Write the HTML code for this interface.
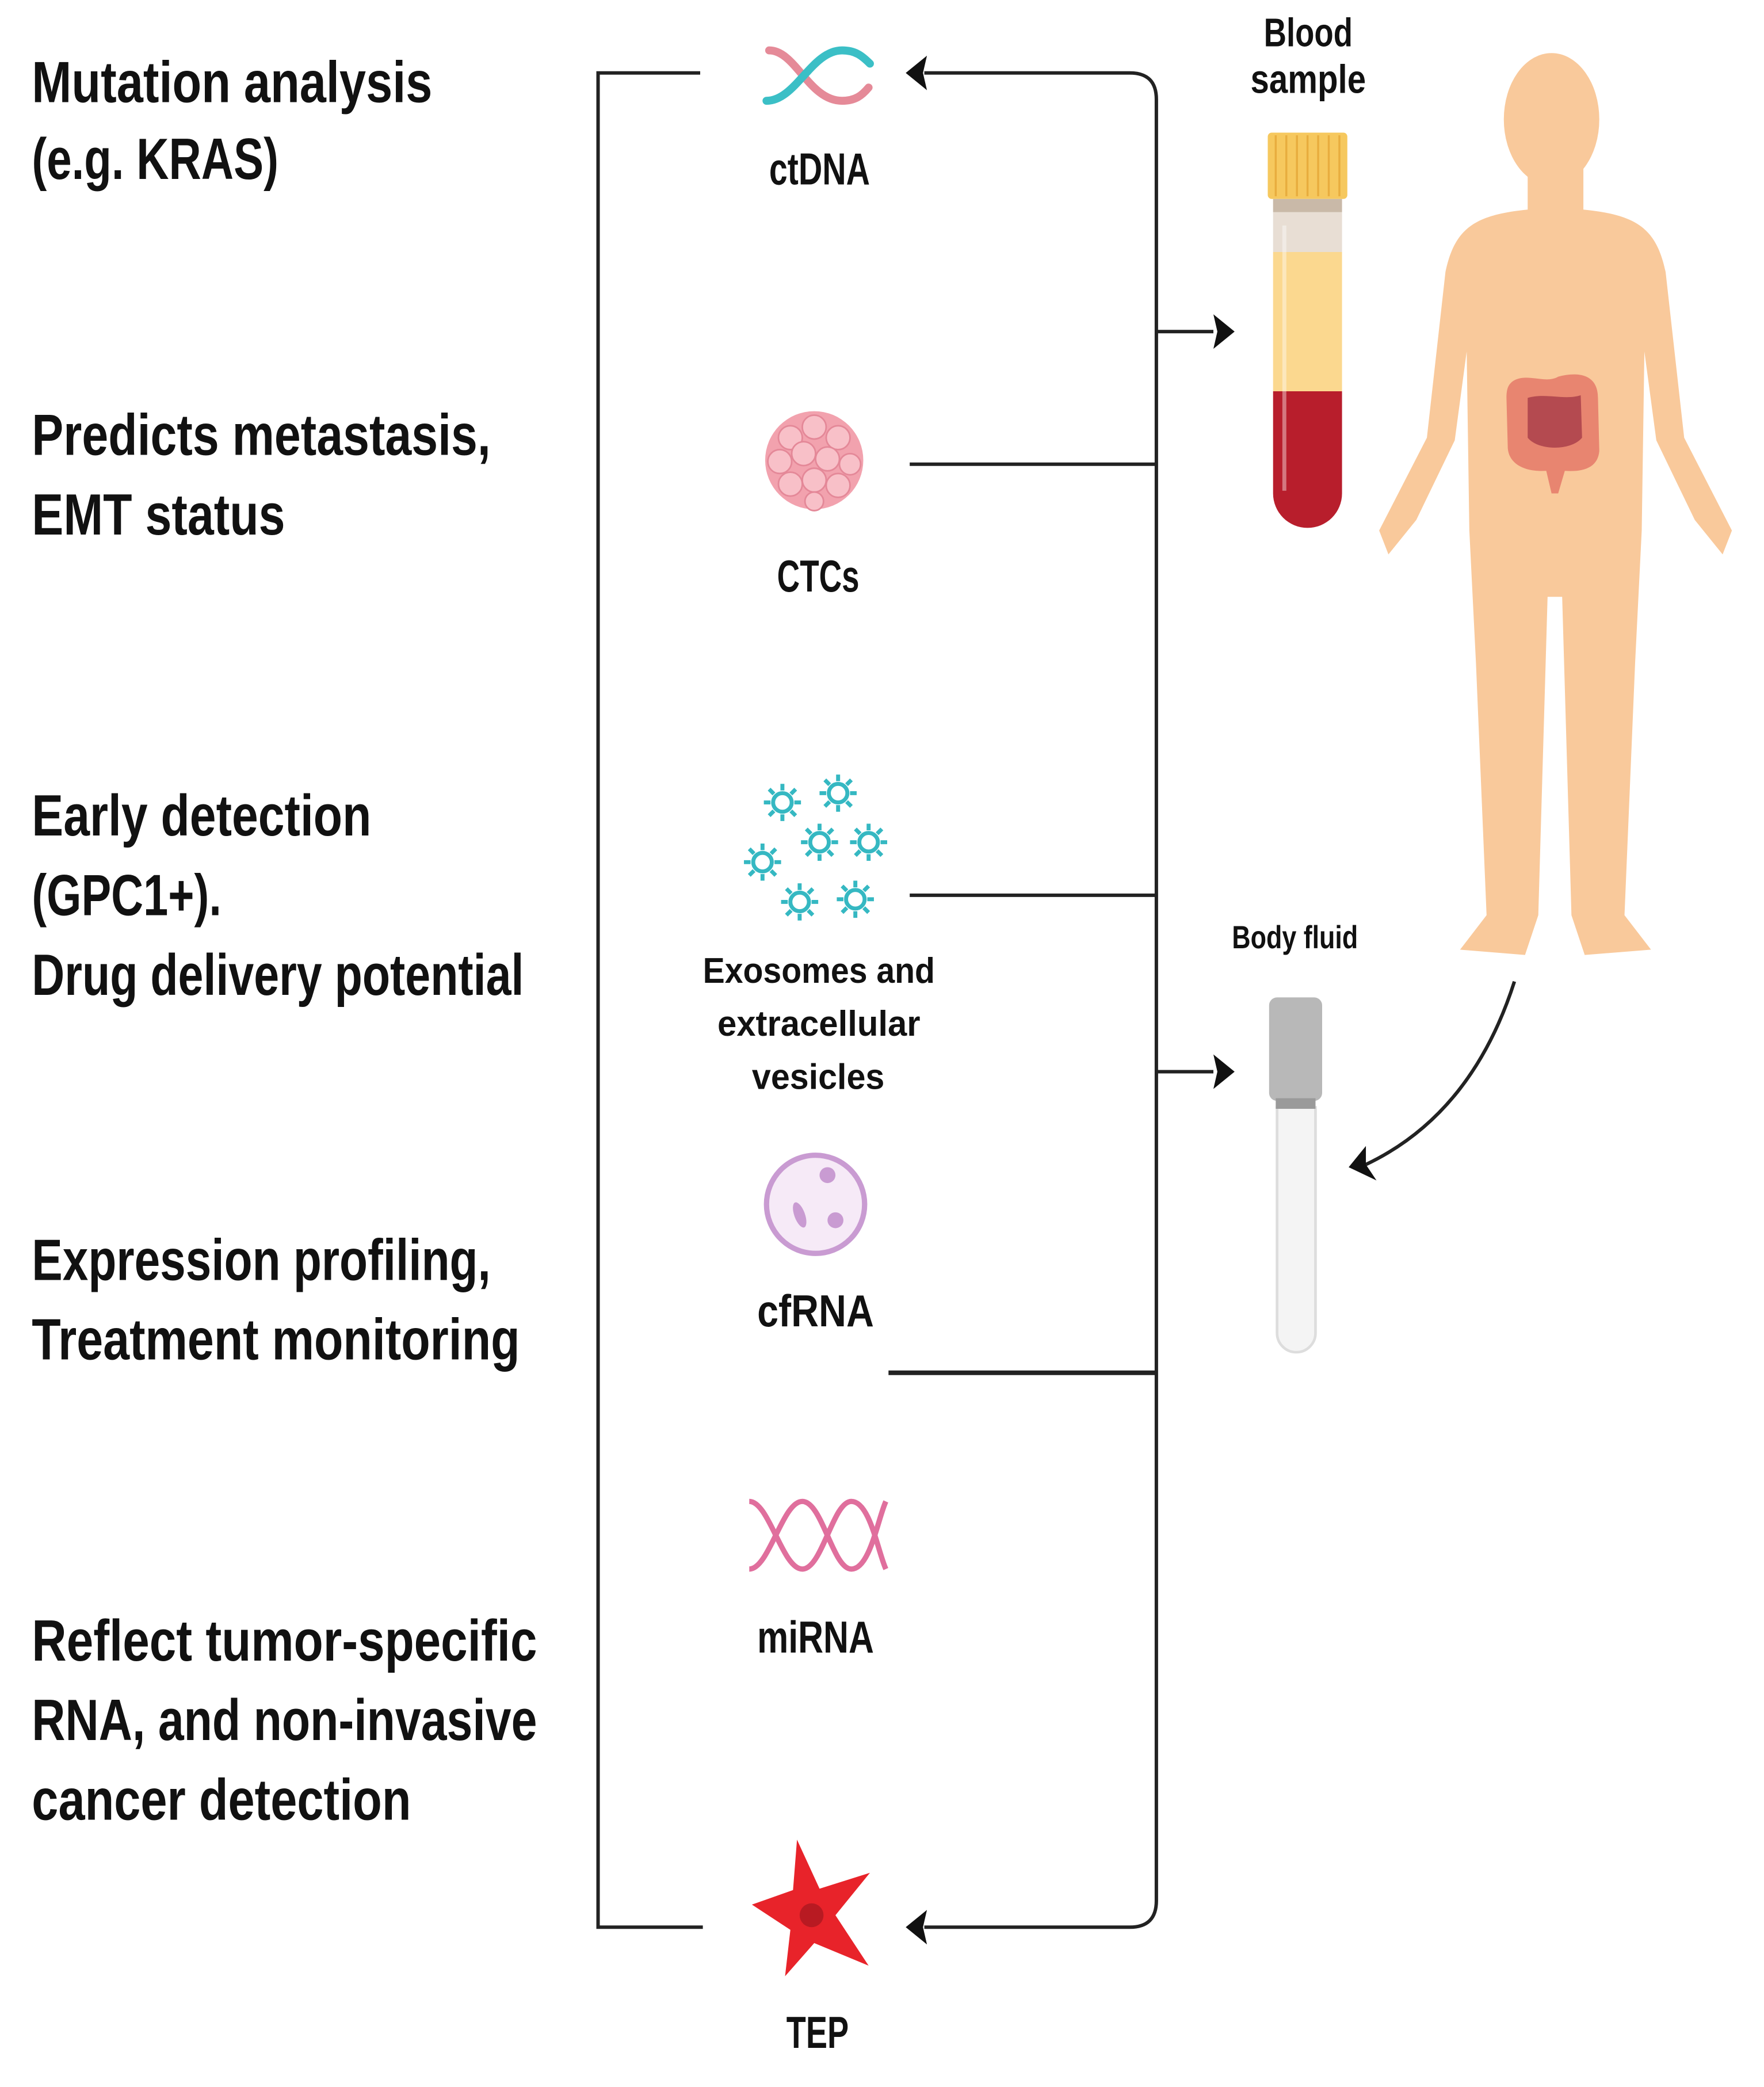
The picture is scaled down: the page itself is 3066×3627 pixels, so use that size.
<!DOCTYPE html>
<html><head><meta charset="utf-8"><style>
html,body{margin:0;padding:0;background:#fff;}
svg{display:block;}
text{font-family:"Liberation Sans",sans-serif;font-weight:bold;fill:#111;}
</style></head><body>
<svg width="3066" height="3627" viewBox="0 0 1330.2 1573.5" preserveAspectRatio="none" xmlns="http://www.w3.org/2000/svg">
<rect width="1330.2" height="1573.5" fill="#fff"/>
<!-- left texts -->
<g font-size="44" lengthAdjust="spacingAndGlyphs">
<text x="24" y="77" textLength="302" lengthAdjust="spacingAndGlyphs">Mutation analysis</text>
<text x="24" y="135" textLength="186" lengthAdjust="spacingAndGlyphs">(e.g. KRAS)</text>
<text x="24" y="343" textLength="346" lengthAdjust="spacingAndGlyphs">Predicts metastasis,</text>
<text x="24" y="403" textLength="191" lengthAdjust="spacingAndGlyphs">EMT status</text>
<text x="24" y="630" textLength="256" lengthAdjust="spacingAndGlyphs">Early detection</text>
<text x="24" y="690" textLength="143" lengthAdjust="spacingAndGlyphs">(GPC1+).</text>
<text x="24" y="750" textLength="371" lengthAdjust="spacingAndGlyphs">Drug delivery potential</text>
<text x="24" y="965" textLength="346" lengthAdjust="spacingAndGlyphs">Expression profiling,</text>
<text x="24" y="1025" textLength="368" lengthAdjust="spacingAndGlyphs">Treatment monitoring</text>
<text x="24" y="1252" textLength="381" lengthAdjust="spacingAndGlyphs">Reflect tumor-specific</text>
<text x="24" y="1312" textLength="381" lengthAdjust="spacingAndGlyphs">RNA, and non-invasive</text>
<text x="24" y="1372" textLength="286" lengthAdjust="spacingAndGlyphs">cancer detection</text>
</g>
<!-- center labels -->
<text x="580" y="139" font-size="34" textLength="76" lengthAdjust="spacingAndGlyphs">ctDNA</text>
<text x="586" y="446" font-size="34" textLength="62" lengthAdjust="spacingAndGlyphs">CTCs</text>
<text x="530" y="741" font-size="27" textLength="175" lengthAdjust="spacingAndGlyphs">Exosomes and</text>
<text x="541" y="781" font-size="27" textLength="153" lengthAdjust="spacingAndGlyphs">extracellular</text>
<text x="567" y="821" font-size="27" textLength="100" lengthAdjust="spacingAndGlyphs">vesicles</text>
<text x="571" y="1000" font-size="34" textLength="88" lengthAdjust="spacingAndGlyphs">cfRNA</text>
<text x="571" y="1246" font-size="34" textLength="88" lengthAdjust="spacingAndGlyphs">miRNA</text>
<text x="593" y="1544" font-size="34" textLength="47" lengthAdjust="spacingAndGlyphs">TEP</text>
<text x="953" y="35" font-size="30" textLength="67" lengthAdjust="spacingAndGlyphs">Blood</text>
<text x="943" y="70" font-size="30" textLength="87" lengthAdjust="spacingAndGlyphs">sample</text>
<text x="929" y="715" font-size="24" textLength="95" lengthAdjust="spacingAndGlyphs">Body fluid</text>

<!-- connectors -->
<g stroke="#222" stroke-width="2.6" fill="none">
<path d="M528,55 H451 V1453 H530"/>
<path d="M697,55 H852 Q872,55 872,75 V1433 Q872,1453 852,1453 H697"/>
<path d="M872,250 H915"/>
<path d="M872,808 H915"/>
<path d="M686,350 H872"/>
<path d="M686,675 H872"/>
<path d="M670,1035 H872" stroke-width="3.5"/>
<path d="M1142,740 Q1110,840 1030,878"/>
</g>
<g fill="#111">
<polygon points="683,55 699,42 696,55 699,68"/>
<polygon points="683,1453 699,1440 696,1453 699,1466"/>
<polygon points="931,250 915,237 918,250 915,263"/>
<polygon points="931,808 915,795 918,808 915,821"/>
<polygon points="1017,880 1030,864 1030,878 1038,890"/>
</g>

<!-- ctDNA -->
<g fill="none" stroke-width="6" stroke-linecap="round">
<path d="M580,38 C600,38 610,76 635,76 C645,76 650,72 655,66" stroke="#e58a98"/>
<path d="M578,76 C600,76 612,38 635,38 C645,38 650,42 656,48" stroke="#3bbfc6"/>
</g>
<!-- CTCs -->
<circle cx="614" cy="347" r="37" fill="#f2a2ae"/>
<g fill="#f8c0c8" stroke="#e48898" stroke-width="1.2">
<circle cx="596" cy="330" r="9"/><circle cx="614" cy="322" r="9"/><circle cx="632" cy="330" r="9"/>
<circle cx="588" cy="348" r="9"/><circle cx="606" cy="342" r="9"/><circle cx="624" cy="346" r="9"/><circle cx="641" cy="350" r="8"/>
<circle cx="596" cy="365" r="9"/><circle cx="614" cy="362" r="9"/><circle cx="632" cy="366" r="9"/><circle cx="614" cy="378" r="7"/>
</g>
<!-- exosomes -->
<defs>
<g id="v" stroke="#35b8c2" stroke-width="3" fill="none">
<circle r="7"/>
<path d="M0,-9V-14M0,9V14M-9,0H-14M9,0H14M6.4,6.4L10,10M-6.4,-6.4L-10,-10M6.4,-6.4L10,-10M-6.4,6.4L-10,10"/>
</g>
</defs>
<use href="#v" x="590" y="605"/><use href="#v" x="632" y="598"/><use href="#v" x="575" y="650"/>
<use href="#v" x="618" y="635"/><use href="#v" x="655" y="635"/><use href="#v" x="603" y="680"/><use href="#v" x="645" y="678"/>
<!-- cfRNA -->
<circle cx="615" cy="908" r="37" fill="#f6eaf7" stroke="#c99bd2" stroke-width="4"/>
<circle cx="624" cy="886" r="6" fill="#c99bd2"/><circle cx="630" cy="920" r="6" fill="#c99bd2"/>
<ellipse cx="603" cy="916" rx="4" ry="10" transform="rotate(-20 603 916)" fill="#c99bd2"/>
<!-- miRNA -->
<g fill="none" stroke="#e06f9d" stroke-width="4">
<path d="M565,1132 C580,1132 590,1183 605,1183 C620,1183 628,1132 642,1132 C656,1132 662,1170 668,1183"/>
<path d="M565,1183 C580,1183 590,1132 605,1132 C620,1132 628,1183 642,1183 C656,1183 662,1145 668,1132"/>
</g>
<!-- TEP -->
<path d="M601,1387 L618,1424 L656,1412 L630,1444 L655,1482 L614,1465 L592,1490 L596,1455 L567,1436 L598,1425 Z" fill="#e8232a"/>
<circle cx="612" cy="1444" r="9" fill="#b81a22"/>

<!-- blood tube -->
<rect x="956" y="100" width="60" height="50" rx="3" fill="#f6c85e"/>
<g stroke="#e8ad3e" stroke-width="1.5"><path d="M962,102V148M970,102V148M978,102V148M986,102V148M994,102V148M1002,102V148M1010,102V148"/></g>
<rect x="960" y="150" width="52" height="10" fill="#c9b9a8"/>
<rect x="960" y="160" width="52" height="30" fill="#e8ded4"/>
<rect x="960" y="190" width="52" height="105" fill="#fbd88f"/>
<path d="M960,295 H1012 V372 A26,26 0 0 1 960,372 Z" fill="#b81e2c"/>
<rect x="967" y="170" width="3" height="200" fill="#fff" opacity="0.4"/>

<!-- body fluid tube -->
<path d="M963,835 H992 V1005 A14.5,14.5 0 0 1 963,1005 Z" fill="#f4f4f4" stroke="#ddd" stroke-width="2"/>
<rect x="957" y="752" width="40" height="78" rx="6" fill="#b8b8b8"/>
<rect x="962" y="828" width="30" height="8" fill="#9a9a9a"/>

<!-- human -->
<g fill="#f9c99b">
<ellipse cx="1170" cy="90" rx="36" ry="50"/>
<path d="M1152,125 L1152,158 C1112,162 1097,172 1090,205 L1076,330 L1040,400 L1047,418 L1068,392 L1097,332 L1106,265 L1108,400 L1113,500 L1121,690 L1101,716 L1150,720 L1160,690 L1167,450 L1178,450 L1185,690 L1195,720 L1245,716 L1225,690 L1233,500 L1238,400 L1240,265 L1249,332 L1278,392 L1299,418 L1306,400 L1270,330 L1256,205 C1249,172 1234,162 1194,158 L1194,125 Z"/>
</g>
<path d="M1140,288 C1150,280 1165,290 1175,284 C1190,280 1205,282 1205,300 L1206,340 C1205,352 1195,356 1180,355 L1175,372 L1170,372 L1166,355 C1150,356 1138,350 1137,338 L1136,300 C1136,292 1138,290 1140,288 Z" fill="#e88570"/>
<path d="M1152,300 C1165,296 1180,302 1192,298 L1193,330 C1185,340 1160,340 1152,330 Z" fill="#b44a50"/>
</svg>
</body></html>
